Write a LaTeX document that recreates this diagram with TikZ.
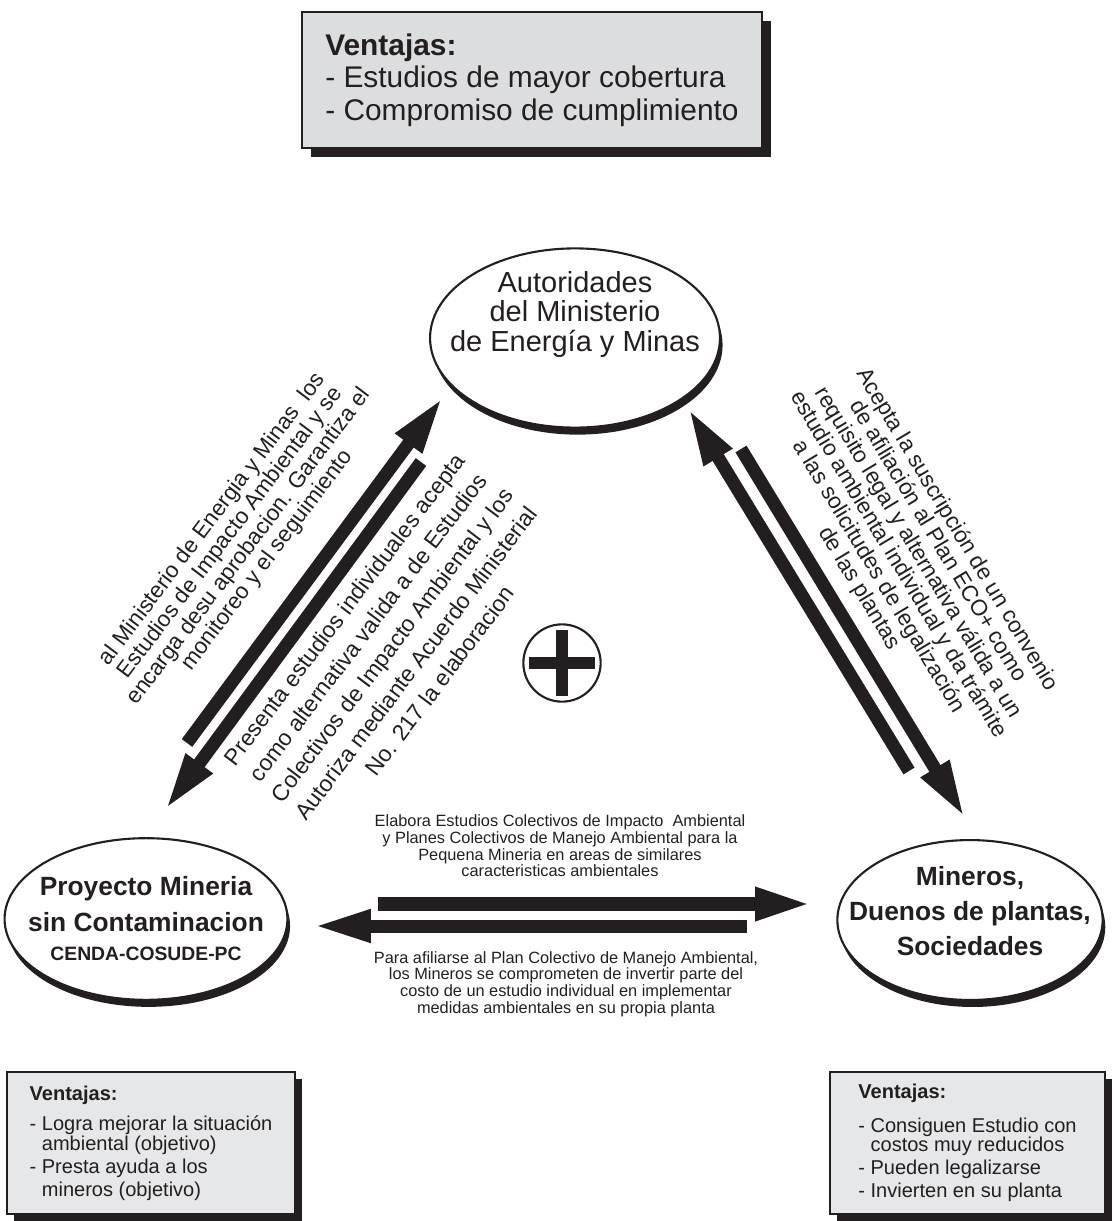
\documentclass[tikz,border=0pt]{standalone}
\usepackage{fontspec}
\setmainfont{Liberation Sans}
\usetikzlibrary{arrows.meta,positioning,calc,shapes.geometric,shadows}
\definecolor{ink}{RGB}{35,31,32}
\definecolor{paneA}{RGB}{220,221,222}
\definecolor{paneB}{RGB}{230,231,232}
\tikzset{
  actor/.style={ellipse,draw=ink,fill=white,line width=1.2pt,inner sep=0pt,
    drop shadow={shadow xshift=1.5pt,shadow yshift=-4pt,fill=ink,opacity=1}},
  who/.style={text=ink,align=center,inner sep=0pt},
  pane/.style={draw=ink,line width=1.1pt,text=ink,align=left,inner sep=0pt,
    drop shadow={shadow xshift=#1,shadow yshift=-#1,fill=ink,opacity=1}},
  pane/.default=4pt,
  flow/.style={draw=ink,line width=#1,-{Triangle[length=33pt,width=17pt]}},
  flow/.default=7.4pt,
  note/.style={text=ink,align=center,inner sep=0pt,font=\fontsize{12.8}{13}\selectfont},
  memo/.style={text=ink,align=center,inner sep=0pt,font=\fontsize{9.3}{9.5}\selectfont},
}

\begin{document}
\begin{tikzpicture}[x=0.02cm,y=-0.02cm]
\useasboundingbox (0,0) rectangle (1113,1221);
% advantages of the collective study
\node[pane=5.2pt,fill=paneA,minimum width=262pt,minimum height=77pt,
  font=\fontsize{17}{18.4}\selectfont] (vtop) at (532,80)
  {\textbf{Ventajas:}\\- Estudios de mayor cobertura\\- Compromiso de cumplimiento};
% the three parties
\node[actor,minimum width=165pt,minimum height=102pt] (mem) at (575,338) {};
\node[who,font=\fontsize{16.5}{16.8}\selectfont] (memtxt) at ([yshift=13.5pt]mem.center)
  {Autoridades\\del Ministerio\\de Energía y Minas};
\node[actor,minimum width=161pt,minimum height=92pt] (pmsc) at (146,919) {};
\node[who,font=\bfseries\fontsize{15}{20}\selectfont] (pmsctxt) at (pmsc.center)
  {Proyecto Mineria\\sin Contaminacion\\[-3pt]{\fontsize{11}{13}\selectfont CENDA-COSUDE-PC}};
\node[actor,minimum width=151pt,minimum height=91pt] (mdp) at (970,920) {};
\node[who,font=\bfseries\fontsize{15}{20}\selectfont] (mdptxt) at ([yshift=5pt]mdp.center)
  {Mineros,\\Duenos de plantas,\\Sociedades};
% plus sign in the middle
\node[circle,draw=ink,line width=1.2pt,minimum size=44pt,inner sep=0pt] (plus) at (562,663) {};
\draw[ink,line width=7pt] ([xshift=-19pt]plus.center) -- ([xshift=19pt]plus.center);
\draw[ink,line width=7pt] ([yshift=-19pt]plus.center) -- ([yshift=19pt]plus.center);
% arrow ends
\coordinate (la0) at (187,743); \coordinate (la1) at (443,397);
\coordinate (lb0) at (421,462); \coordinate (lb1) at (165,810);
\coordinate (ra0) at (909,771); \coordinate (ra1) at (688,408);
\coordinate (rb0) at (741,449); \coordinate (rb1) at (965,818);
\coordinate (ha0) at (378,904); \coordinate (ha1) at (813,904);
\coordinate (hb0) at (747,926); \coordinate (hb1) at (313,926);
\draw[flow] (la0) -- (la1);
\draw[flow] (lb0) -- (lb1);
\draw[flow] (ra0) -- (ra1);
\draw[flow] (rb0) -- (rb1);
\draw[flow=8pt] (ha0) -- (ha1);
\draw[flow=7.4pt] (hb0) -- (hb1);
% texts along the arrows
\node[note,rotate=53] (tlu) at (240,540)
  {al Ministerio de Energia y Minas\ \ los\\Estudios de Impacto Ambiental y se\\
   encarga desu aprobacion. Garantiza el\\monitoreo y el seguimiento};
\node[note,rotate=53,font=\fontsize{13}{17}\selectfont] (tld) at (392,645)
  {Presenta estudios individuales acepta\\como alternativa valida a de Estudios\\
   Colectivos de Impacto Ambiental y los\\Autoriza mediante Acuerdo Ministerial\\
   No. 217 la elaboracion};
\node[note,rotate=-59] (tr) at (908,559)
  {Acepta la suscripción de un convenio\\de afiliación al Plan ECO+ como\\
   requisito legal y alternativa válida a un\\estudio ambiental individual y da trámite\\
   a las solicitudes de legalización\\de las plantas};
\node[memo] (tup) at (560,846)
  {Elabora Estudios Colectivos de Impacto\ \ Ambiental\\y Planes Colectivos de Manejo Ambiental para la\\
   Pequena Mineria en areas de similares\\caracteristicas ambientales};
\node[memo] (tdn) at (566,984)
  {Para afiliarse al Plan Colectivo de Manejo Ambiental,\\los Mineros se comprometen de invertir parte del\\
   costo de un estudio individual en implementar\\medidas ambientales en su propia planta};
% advantages for each side
\node[pane,fill=paneB,minimum width=164pt,minimum height=81pt,
  font=\fontsize{11.4}{11.4}\selectfont] (vl) at (151,1143)
  {\textbf{Ventajas:}\\[5.6pt]- Logra mejorar la situación\\\phantom{- }ambiental (objetivo)\\[1.7pt]
   - Presta ayuda a los\\[1.7pt]\phantom{- }mineros (objetivo)};
\node[pane,fill=paneB,minimum width=156.5pt,minimum height=81pt,
  font=\fontsize{11.4}{11.4}\selectfont] (vr) at (967.5,1143)
  {\textbf{Ventajas:}\\[8pt]- Consiguen Estudio con\\[-1pt]\phantom{- }costos muy reducidos\\[1.7pt]
   - Pueden legalizarse\\[2pt]- Invierten en su planta};
\end{tikzpicture}
\end{document}
